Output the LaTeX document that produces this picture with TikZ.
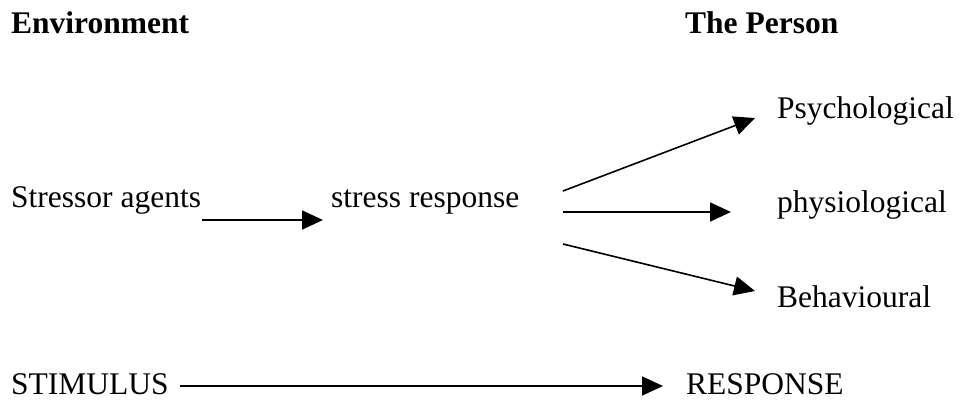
\documentclass[tikz,border=0pt]{standalone}
\usepackage{fontspec}
\setmainfont{Liberation Serif}
\usetikzlibrary{arrows.meta}
\begin{document}
\begin{tikzpicture}[x=1pt,y=-1pt,
  lbl/.style={inner sep=0pt,anchor=base west,font=\fontsize{31.5}{36}\selectfont},
  hd/.style={lbl,font=\fontsize{31.5}{36}\selectfont\bfseries},
  arr/.style={line width=1.6pt,-{Triangle[length=21pt,width=19pt]}}]
\useasboundingbox (0,0) rectangle (962,400);
\node[hd] (env) at (11,33) {Environment};
\node[hd] (per) at (685,33) {The Person};
\node[lbl] (psy) at (777,118) {Psychological};
\node[lbl] (phy) at (777,212) {physiological};
\node[lbl] (beh) at (777,307) {Behavioural};
\node[lbl] (sa) at (11,207) {Stressor agents};
\node[lbl] (sr) at (331,207) {stress response};
\node[lbl] (stim) at (11,394) {STIMULUS};
\node[lbl] (resp) at (686,394) {RESPONSE};
\coordinate (a1) at (202,220);
\coordinate (a2) at (323,220);
\coordinate (b0) at (563,191);
\coordinate (b1) at (755,118);
\coordinate (c0) at (563,212);
\coordinate (c1) at (731,212);
\coordinate (d0) at (563,244);
\coordinate (d1) at (755,291);
\coordinate (e0) at (180,386);
\coordinate (e1) at (663,386);
\draw[arr] (a1) -- (a2);
\draw[arr] (b0) -- (b1);
\draw[arr] (c0) -- (c1);
\draw[arr] (d0) -- (d1);
\draw[arr] (e0) -- (e1);
\end{tikzpicture}
\end{document}
